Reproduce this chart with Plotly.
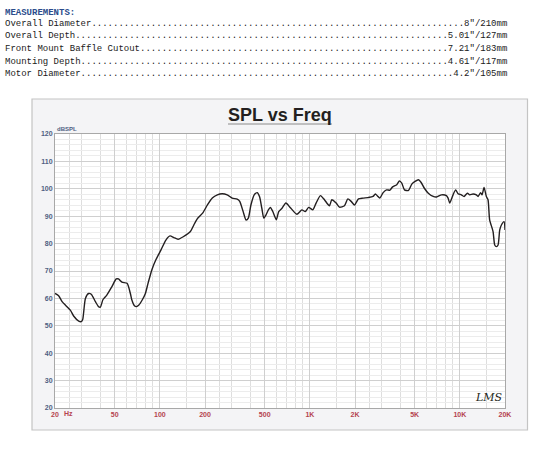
import plotly.graph_objects as go

# ---------------- data ----------------
freq_hz = [20, 21.2, 22.3, 25.3, 26.7, 28.8, 29.9, 30.6, 31.9, 33.5, 34.9, 37.2, 39.0, 40.1,
           41.8, 44.3, 47.9, 51.2, 53.0, 55.9, 60.5, 63.6, 65.1, 67.7, 69.8, 72.5, 76.6, 80.1,
           83.4, 88.4, 93.9, 101.8, 109.7, 116.9, 124.0, 132.3, 143.2, 159.9, 168.5, 177.5,
           192.8, 207.6, 223.8, 241.7, 260.3, 281.3, 303.8, 327.6, 340.8, 358.3, 375.6, 388.8,
           404.7, 425.6, 445.6, 461.7, 478.6, 493.2, 510.6, 529.0, 545.6, 566.3, 598, 620,
           652, 692, 739, 819, 885, 932, 981, 1047, 1101, 1176, 1251, 1351, 1401, 1497, 1576,
           1701, 1791, 1887, 1986, 2110, 2258, 2440, 2637, 2732, 2821, 2924, 3081, 3246, 3419,
           3549, 3796, 3957, 4100, 4275, 4546, 4782, 5030, 5293, 5505, 5800, 6163, 6644, 6990,
           7544, 8138, 8348, 8560, 9010, 9377, 9730, 10240, 10670, 11230, 11630, 12250, 12890,
           13220, 13760, 14060, 14500, 15020, 15410, 15800, 16650, 17080, 17530, 17980, 18450,
           18930, 19710, 20000]
spl_db = [61.8, 60.9, 58.8, 55.7, 53.5, 51.7, 51.5, 52.3, 60.0, 61.8, 61.5, 58.8, 57.0, 56.8,
          59.6, 61.2, 64.3, 67.1, 67.1, 65.9, 65.5, 61.8, 59.4, 57.3, 57.0, 57.6, 59.6, 61.8,
          65.5, 70.4, 74.0, 77.7, 81.3, 82.8, 82.2, 81.6, 82.5, 84.4, 86.8, 89.0,
          91.1, 94.1, 96.6, 97.8, 98.2, 97.8, 96.6, 96.2, 95.4, 91.9, 88.6, 89.3,
          94.1, 97.8, 98.6, 97.2, 92.9, 89.3, 90.5, 92.3, 93.2, 91.7, 88.7, 91.7,
          92.9, 94.8, 93.2, 90.7, 92.3, 91.7, 93.2, 92.3, 94.8, 97.5, 96.0, 93.8, 96.0, 94.8, 93.3,
          93.8, 96.3, 95.4, 94.1, 96.3, 96.6, 96.8, 97.2, 98.1, 97.4, 96.6, 98.6, 99.6, 99.5,
          100.6, 101.5, 102.9, 102.1, 99.6, 99.4, 101.7, 102.7, 103.3, 102.4, 100.2, 98.4, 97.2, 97.0,
          97.8, 97.5, 96.6, 94.8, 97.8, 99.6, 98.2, 97.8, 97.2, 98.4, 97.8, 98.1, 97.8,
          97.2, 98.6, 97.8, 100.5, 97.2, 96.0, 88.7, 84.4, 79.5, 78.9, 79.5, 85.0,
          86.8, 88.0, 85.0]

x_tick_vals = [20, 50, 100, 200, 500, 1000, 2000, 5000, 10000, 20000]
x_tick_text = ["20", "50", "100", "200", "500", "1K", "2K", "5K", "10K", "20K"]
x_minor_vals = [25, 30, 40, 60, 70, 80, 90, 150, 250, 300, 400, 600, 700, 800, 900,
                1500, 2500, 3000, 4000, 6000, 7000, 8000, 9000, 15000]
y_tick_vals = [20, 30, 40, 50, 60, 70, 80, 90, 100, 110, 120]

measure_names = ["Overall Diameter", "Overall Depth", "Front Mount Baffle Cutout",
                 "Mounting Depth", "Motor Diameter"]
measure_values = ['8"/210mm', '5.01"/127mm', '7.21"/183mm', '4.61"/117mm', '4.2"/105mm']

# ---------------- layout helpers ----------------
W, H = 548, 449
ML, MR, MT, MB = 55, 43, 134, 41
PW, PH = W - ML - MR, H - MT - MB


def px(x):
    return (x - ML) / PW


def py(y):
    return (H - MB - y) / PH


fig = go.Figure()
fig.add_trace(go.Scatter(
    x=freq_hz, y=spl_db, mode="lines",
    line=dict(color="#231f20", width=1.4, shape="spline", smoothing=0.6),
    hoverinfo="skip", showlegend=False))

tick_font_y = dict(family="Liberation Sans", size=7, color="#4f6082")
tick_font_x = dict(family="Liberation Sans", size=7, color="#b5434f")

fig.update_layout(
    width=W, height=H,
    margin=dict(l=ML, r=MR, t=MT, b=MB, pad=0),
    paper_bgcolor="white", plot_bgcolor="white",
    showlegend=False,
    xaxis=dict(type="log", range=[1.30103, 4.30103],
               tickmode="array", tickvals=x_tick_vals, ticktext=["<b>%s</b>" % t for t in x_tick_text],
               tickfont=tick_font_x, ticks="", showgrid=True, gridcolor="#cfcfcf", gridwidth=1,
               minor=dict(tickvals=x_minor_vals, showgrid=True, gridcolor="#dedede", gridwidth=1, ticks=""),
               showline=True, linecolor="#a8a8a8", linewidth=1, mirror=True, zeroline=False,
               fixedrange=True),
    yaxis=dict(range=[20, 120], tickmode="array", tickvals=y_tick_vals,
               ticktext=["<b>%d</b>" % v for v in y_tick_vals],
               tickfont=tick_font_y, ticks="", showgrid=True, gridcolor="#cfcfcf", gridwidth=1,
               minor=dict(dtick=2, showgrid=True, gridcolor="#ececec", gridwidth=1, ticks=""),
               showline=True, linecolor="#a8a8a8", linewidth=1, mirror=True, zeroline=False,
               fixedrange=True),
)

# grey panel behind the chart, and white plot area above it
fig.add_shape(type="rect", xref="paper", yref="paper",
              x0=px(32), x1=px(527.5), y0=py(430), y1=py(99),
              fillcolor="#f4f4f6", line=dict(color="#c4c4c4", width=1.2), layer="below")
fig.add_shape(type="rect", xref="paper", yref="paper",
              x0=0, x1=1, y0=0, y1=1,
              fillcolor="white", line=dict(width=0), layer="below")

# title + underline
fig.add_annotation(xref="paper", yref="paper", x=px(280), y=py(115),
                   text="<b>SPL vs Freq</b>", showarrow=False,
                   xanchor="center", yanchor="middle",
                   font=dict(family="Liberation Sans", size=18, color="#231f20"))
fig.add_shape(type="line", xref="paper", yref="paper",
              x0=px(228), x1=px(332), y0=py(124), y1=py(124),
              line=dict(color="#8a8a8a", width=1))

# axis extras
fig.add_annotation(xref="paper", yref="paper", x=px(55), y=py(128.5),
                   text="<b>dBSPL</b>", showarrow=False, xanchor="left", yanchor="middle",
                   font=dict(family="Liberation Sans", size=6, color="#4f6082"))
fig.add_annotation(xref="paper", yref="paper", x=px(62), y=py(413),
                   text="<b>Hz</b>", showarrow=False, xanchor="left", yanchor="middle",
                   font=tick_font_x)
fig.add_annotation(xref="paper", yref="paper", x=px(489), y=py(397),
                   text="<i>LMS</i>", showarrow=False, xanchor="center", yanchor="middle",
                   font=dict(family="DejaVu Serif", size=11, color="#231f20"))

# measurement block
fig.add_annotation(xref="paper", yref="paper", x=px(3), y=py(12.5),
                   text="<b>MEASUREMENTS:</b>", showarrow=False, xanchor="left", yanchor="middle",
                   font=dict(family="Liberation Mono", size=9, color="#2b4c8c"))
LINE_CHARS = 93
row_y = [24, 36.5, 49, 61.5, 74]
for name, val, yy in zip(measure_names, measure_values, row_y):
    dots = "." * (LINE_CHARS - len(name) - len(val))
    fig.add_annotation(xref="paper", yref="paper", x=px(3), y=py(yy),
                       text=name + dots + val, showarrow=False, xanchor="left", yanchor="middle",
                       font=dict(family="Liberation Mono", size=9, color="#1a1a1a"))

fig.write_html("out.html", config={"displayModeBar": False},
               post_script="document.body.style.margin='0';document.body.style.overflow='hidden';")
